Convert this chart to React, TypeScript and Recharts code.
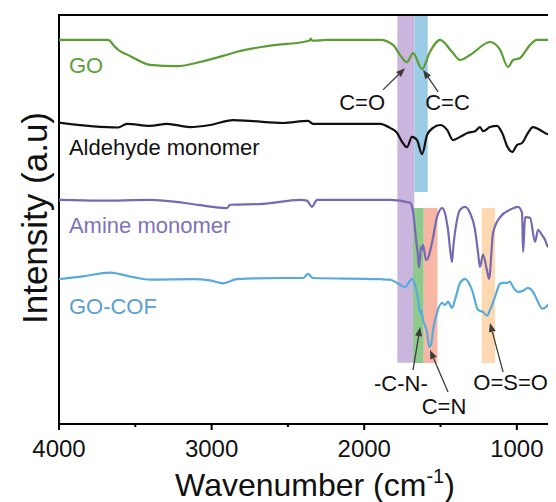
import React from "react";
import {
  LineChart,
  Line,
  XAxis,
  YAxis,
  ReferenceArea,
  ReferenceLine,
  ReferenceDot,
} from "recharts";

// ---- Spectra (wavenumber in cm^-1, intensity relative to each trace's baseline) ----
const goWavenumber = [4000, 3679, 3633, 3613, 3535, 3404, 3227, 3076, 2925, 2834, 2637, 2360, 2350, 2340, 2244, 1896, 1811, 1765, 1720, 1680, 1621, 1569, 1503, 1425, 1372, 1307, 1176, 1110, 1058, 1025, 979, 913, 868, 750];
const goIntensity = [0, 0, -1.7, -2.4, -3.9, -6.1, -6.4, -5.4, -3.9, -2.9, -1.5, -0.2, 0.3, -0.2, 0, 0, -1.2, -3.7, -5.4, -3.2, -7.1, -2.9, 0, -2.9, -4.9, -3.7, -0.5, -2.4, -6.6, -4.9, -4.4, -1.2, 0, 0];

const aldehydeWavenumber = [4000, 3613, 3554, 3404, 3292, 3142, 3010, 2860, 2748, 2532, 2368, 2336, 1896, 1831, 1785, 1752, 1720, 1687, 1654, 1621, 1588, 1549, 1503, 1457, 1418, 1372, 1320, 1274, 1241, 1222, 1176, 1130, 1097, 1058, 1031, 999, 966, 927, 894, 848, 802, 750];
const aldehydeIntensity = [0.1, -1.1, -0.2, -0.7, -0.2, -1.0, -0.5, 0.7, 0.5, 0, 0.5, -0.2, -0.2, -1.2, -2.4, -4.6, -5.9, -3.4, -4.2, -7.6, -2.9, -1.2, -0.5, -1.7, -4.2, -3.4, -2.4, -2.0, -1.0, -2.0, -1.0, -0.7, -2.4, -6.1, -7.1, -5.4, -4.9, -2.4, -1.0, -1.7, -2.7, -2.9];

const amineWavenumber = [4000, 3731, 3404, 3187, 3076, 2899, 2879, 2663, 2421, 2375, 2342, 2309, 1896, 1831, 1700, 1680, 1660, 1647, 1641, 1628, 1621, 1615, 1595, 1582, 1556, 1523, 1490, 1471, 1451, 1425, 1418, 1392, 1372, 1339, 1307, 1274, 1254, 1241, 1222, 1195, 1182, 1156, 1110, 1045, 992, 966, 959, 946, 913, 881, 861, 835, 815, 796, 769, 750];
const amineIntensity = [0, -0.2, 0, -0.7, -1.3, -2.0, -1.2, -1.0, 0, -0.2, -1.7, 0, 0, 0, -0.7, -2.9, -9.8, -13.9, -16.6, -11.5, -12.2, -11.0, -14.7, -14.2, -10.5, -4.2, -2.0, -3.2, -7.3, -15.2, -12.2, -4.9, -2.4, -1.7, -3.2, -7.3, -13.0, -16.4, -13.4, -17.4, -19.3, -8.1, -4.2, -2.4, -1.7, -3.2, -12.7, -4.2, -4.4, -10.3, -7.3, -8.6, -9.8, -11.5, -10.5, -6.6];

const gocofWavenumber = [4000, 3843, 3666, 3515, 3404, 3122, 3010, 2925, 2834, 2532, 2401, 2368, 2336, 1896, 1831, 1785, 1733, 1687, 1667, 1647, 1634, 1628, 1615, 1588, 1575, 1562, 1549, 1523, 1490, 1471, 1451, 1425, 1405, 1372, 1339, 1294, 1254, 1222, 1195, 1176, 1143, 1110, 1090, 1064, 1045, 1025, 992, 959, 927, 894, 868, 835, 796, 769, 750];
const gocofIntensity = [-0.1, 0.6, 1.5, 0.4, -0.2, -0.1, -0.4, -1.1, -0.1, 0.2, 0.2, 1.2, 0.2, -0.1, -0.2, -1.0, -2.0, 0, -1.5, -5.1, -8.3, -7.6, -10.0, -13.2, -16.6, -16.1, -12.5, -8.3, -5.9, -6.4, -5.6, -7.1, -5.1, -1.0, 0, -2.7, -7.6, -8.1, -9.0, -7.6, -4.4, -1.2, -1.0, -1.0, -0.7, -2.0, -3.2, -2.9, -2.2, -3.2, -5.1, -7.3, -6.4, -4.2, -3.2];

// vertical stacking offsets of the four traces
const traceOffsets = { go: 93.9, aldehyde: 73.6, amine: 54.8, gocof: 35.5 };

const buildTrace = (wn: number[], val: number[], offset: number) =>
  wn.map((w, i) => ({ wn: w, value: offset + val[i] }));

const goData = buildTrace(goWavenumber, goIntensity, traceOffsets.go);
const aldehydeData = buildTrace(aldehydeWavenumber, aldehydeIntensity, traceOffsets.aldehyde);
const amineData = buildTrace(amineWavenumber, amineIntensity, traceOffsets.amine);
const gocofData = buildTrace(gocofWavenumber, gocofIntensity, traceOffsets.gocof);

// ---- Highlighted absorption bands ----
const bandNames = ["C=O", "C=C", "-C-N-", "C=N", "O=S=O"];
const bandFrom = [1783, 1672, 1680, 1610, 1230];
const bandTo = [1672, 1584, 1610, 1520, 1143];
const bandLow = [15.0, 56.7, 14.9, 14.9, 14.9];
const bandHigh = [100, 100, 52.8, 52.8, 52.8];
const bandColors = ["#c9b5de", "#9ccbe5", "#8fca8c", "#f8b6a4", "#fdd8b0"];

// ---- Annotations: label position and arrow (tail -> head) ----
const annotationText = ["C=O", "C=C", "-C-N-", "C=N", "O=S=O"];
const annotationWn = [2014, 1454, 1760, 1477, 1041];
const annotationY = [76.8, 76.8, 8.1, 2.4, 8.3];
const arrowTailWn = [1877, 1516, 1680, 1451, 1090];
const arrowTailY = [81.7, 81.2, 13.2, 7.8, 12.7];
const arrowHeadWn = [1733, 1615, 1634, 1569, 1176];
const arrowHeadY = [87.0, 86.6, 23.7, 18.1, 24.7];

// ---- Trace names ----
const traceNames = ["GO", "Aldehyde monomer", "Amine monomer", "GO-COF"];
const traceColors = ["#5b9d34", "#111111", "#7669b3", "#5aabdc"];
const traceLabelColors = ["#5f9e3c", "#111111", "#7f72b8", "#5b9fd2"];
const traceLabelWn = [3935, 3935, 3935, 3935];
const traceLabelY = [85.8, 65.8, 46.7, 26.9];

const xTicks = [4000, 3500, 3000, 2500, 2000, 1500, 1000];
const majorTicks = [4000, 3000, 2000, 1000];

const FONT = "'Liberation Sans', Arial, Helvetica, sans-serif";

const AxisTick = (props: any) => {
  const { x, y, payload } = props;
  const major = majorTicks.includes(payload.value);
  return (
    <g>
      <line x1={x} x2={x} y1={y} y2={y + (major ? 6 : 3)} stroke="#000" strokeWidth={2} />
      {major && (
        <text x={x} y={y + 33} textAnchor="middle" fontSize={24} fontFamily={FONT} fill="#111">
          {payload.value}
        </text>
      )}
    </g>
  );
};

const arrowShape = (props: any) => {
  const { x1, y1, x2, y2 } = props;
  const dx = x2 - x1;
  const dy = y2 - y1;
  const len = Math.sqrt(dx * dx + dy * dy) || 1;
  const ux = dx / len;
  const uy = dy / len;
  const headLen = 9;
  const headHalf = 3.5;
  const bx = x2 - ux * headLen;
  const by = y2 - uy * headLen;
  const pts = `${x2},${y2} ${bx - uy * headHalf},${by + ux * headHalf} ${bx + uy * headHalf},${by - ux * headHalf}`;
  return (
    <g>
      <line x1={x1} y1={y1} x2={bx} y2={by} stroke="#3c3c3c" strokeWidth={1.3} />
      <polygon points={pts} fill="#3c3c3c" />
    </g>
  );
};

const textShape = (text: string, color: string, anchor: "start" | "middle") => (props: any) => (
  <text
    x={props.cx}
    y={props.cy}
    textAnchor={anchor}
    fontSize={22}
    fontFamily={FONT}
    fill={color}
  >
    {text}
  </text>
);

export default function App() {
  const W = 548;
  const H = 494;
  return (
    <div style={{ position: "relative", width: W, height: H }}>
      <LineChart width={W} height={H} margin={{ top: 7, right: 1, left: 51, bottom: 0 }}>
        <XAxis
          type="number"
          dataKey="wn"
          domain={[750, 4000]}
          reversed
          allowDataOverflow
          ticks={xTicks}
          interval={0}
          tick={AxisTick}
          tickLine={false}
          tickSize={0}
          tickMargin={0}
          height={78}
          axisLine={{ stroke: "#000", strokeWidth: 2 }}
        />
        <YAxis type="number" domain={[0, 100]} hide allowDataOverflow />

        {bandNames.map((name, i) => (
          <ReferenceArea
            key={name}
            x1={bandFrom[i]}
            x2={bandTo[i]}
            y1={bandLow[i]}
            y2={bandHigh[i]}
            fill={bandColors[i]}
            fillOpacity={1}
            stroke="none"
            ifOverflow="visible"
          />
        ))}

        <Line data={goData} dataKey="value" type="monotone" stroke={traceColors[0]} strokeWidth={2.2} dot={false} isAnimationActive={false} />
        <Line data={aldehydeData} dataKey="value" type="monotone" stroke={traceColors[1]} strokeWidth={2.2} dot={false} isAnimationActive={false} />
        <Line data={amineData} dataKey="value" type="monotone" stroke={traceColors[2]} strokeWidth={2.2} dot={false} isAnimationActive={false} />
        <Line data={gocofData} dataKey="value" type="monotone" stroke={traceColors[3]} strokeWidth={2.2} dot={false} isAnimationActive={false} />

        {annotationText.map((t, i) => (
          <ReferenceLine
            key={"arrow-" + t}
            segment={[
              { x: arrowTailWn[i], y: arrowTailY[i] },
              { x: arrowHeadWn[i], y: arrowHeadY[i] },
            ]}
            ifOverflow="visible"
            shape={arrowShape}
          />
        ))}
        {annotationText.map((t, i) => (
          <ReferenceDot
            key={"label-" + t}
            x={annotationWn[i]}
            y={annotationY[i]}
            r={0}
            ifOverflow="visible"
            shape={textShape(t, "#111", "middle")}
          />
        ))}
        {traceNames.map((t, i) => (
          <ReferenceDot
            key={"trace-" + t}
            x={traceLabelWn[i]}
            y={traceLabelY[i]}
            r={0}
            ifOverflow="visible"
            shape={textShape(t, traceLabelColors[i], "start")}
          />
        ))}

        <ReferenceArea
          x1={4000}
          x2={750}
          y1={0}
          y2={100}
          fill="none"
          fillOpacity={0}
          stroke="#000"
          strokeWidth={2}
          ifOverflow="visible"
        />
      </LineChart>

      <svg
        width={W}
        height={H}
        style={{ position: "absolute", left: 0, top: 0, pointerEvents: "none" }}
      >
        <text x={307} y={488} textAnchor="middle" fontSize={32} fontFamily={FONT} fill="#111">
          Wavenumber (cm
          <tspan dy={-13} fontSize={20}>-1</tspan>
          <tspan dy={13}>)</tspan>
        </text>
        <text
          x={39}
          y={210}
          transform="rotate(-90 39 210)"
          textAnchor="middle"
          fontSize={35}
          fontFamily={FONT}
          fill="#111"
        >
          Intensity (a.u)
        </text>
      </svg>
    </div>
  );
}
